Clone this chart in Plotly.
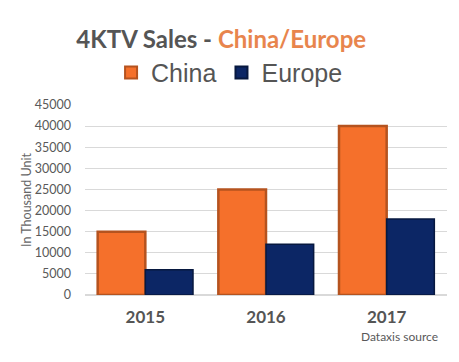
import plotly.graph_objects as go

years = ["2015", "2016", "2017"]
china = [15000, 25000, 40000]
europe = [6000, 12000, 18000]
yticks = [0, 5000, 10000, 15000, 20000, 25000, 30000, 35000, 40000, 45000]

fig = go.Figure()
fig.add_trace(go.Bar(x=years, y=china, name="China",
                     marker=dict(color="#F5702B", line=dict(color="#B5531F", width=2.5))))
fig.add_trace(go.Bar(x=years, y=europe, name="Europe",
                     marker=dict(color="#0C2665", line=dict(color="#07183F", width=1.5))))

fig.update_layout(
    width=459, height=362,
    margin=dict(l=85, r=12, t=105, b=67, autoexpand=False),
    paper_bgcolor="white", plot_bgcolor="white",
    barmode="group", bargap=0.21, bargroupgap=0,
    showlegend=True,
    legend=dict(orientation="h", x=0.072, xanchor="left", y=1.17, yanchor="middle",
                font=dict(family="Liberation Sans, Arial", size=25, color="#555555"),
                itemsizing="constant", traceorder="normal", itemwidth=30),
    title=dict(text="<b>4KTV Sales - <span style='color:#E8854D'>China/Europe</span></b>",
               x=0.482, xanchor="center", y=0.89, yanchor="middle",
               font=dict(family="Lato, Liberation Sans", size=24, color="#555555")),
    font=dict(family="Lato, Liberation Sans", color="#595959"),
)
fig.update_yaxes(range=[0, 45000], tickvals=yticks, ticktext=[str(v) for v in yticks],
                 showgrid=True, gridcolor="#D9D9D9", gridwidth=1, zeroline=True,
                 zerolinecolor="#D9D9D9", tickfont=dict(size=12.5, color="#595959"),
                 ticks="", ticklabelstandoff=13, automargin=False,
                 title=dict(text="In Thousand Unit", font=dict(size=12.5, color="#666666"), standoff=0))
fig.update_xaxes(tickfont=dict(size=17, color="#555555", family="Lato, Liberation Sans"),
                 tickprefix="<b>", ticksuffix="</b>", showline=False, ticks="", ticklabelstandoff=10,
                 automargin=False)
fig.add_annotation(text="Dataxis source", x=0.98, xref="paper", xanchor="right",
                   y=-0.221, yref="paper", yanchor="middle", showarrow=False,
                   font=dict(family="Lato, Liberation Sans", size=12, color="#595959"))
fig.write_html("out.html", config={"displayModeBar": False},
               post_script="document.body.style.margin='0';document.body.style.overflow='hidden';")
